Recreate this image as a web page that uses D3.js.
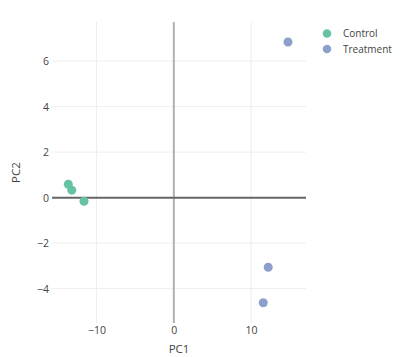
<!DOCTYPE html>
<html><head><meta charset="utf-8">
<script src="https://cdn.jsdelivr.net/npm/d3@7"></script>
<style>body{margin:0;background:#fff}svg{display:block;font-family:"Open Sans",sans-serif}</style>
</head><body><svg id="c" width="408" height="357"></svg>
<script>
const groups = ["Control", "Treatment"];
const colors = ["#66c2a5", "#8da0cb"];
const controlPC1 = [-13.65, -13.2, -11.62];
const controlPC2 = [0.59, 0.33, -0.16];
const treatmentPC1 = [14.77, 12.21, 11.57];
const treatmentPC2 = [6.84, -3.06, -4.62];
const xTicks = [-10, 0, 10];
const yTicks = [-4, -2, 0, 2, 4, 6];

const svg = d3.select("#c");
const L = 52, R = 306, T = 22, B = 323;
const x = d3.scaleLinear().domain([-15.76, 17.1]).range([L, R]);
const y = d3.scaleLinear().domain([-5.51, 7.72]).range([B, T]);
const fmt = d => d < 0 ? "\u2212" + Math.abs(d) : String(d);

const g = svg.append("g");
// grid
g.selectAll(".gx").data(xTicks.filter(d=>d!==0)).join("line")
  .attr("x1", d=>x(d)).attr("x2", d=>x(d)).attr("y1", T).attr("y2", B)
  .attr("stroke", "#eeeeee").attr("stroke-width", 1);
g.selectAll(".gy").data(yTicks.filter(d=>d!==0)).join("line")
  .attr("y1", d=>y(d)).attr("y2", d=>y(d)).attr("x1", L).attr("x2", R)
  .attr("stroke", "#eeeeee").attr("stroke-width", 1);
// zero lines
g.append("line").attr("x1", x(0)).attr("x2", x(0)).attr("y1", T).attr("y2", B)
  .attr("stroke", "#b0b0b0").attr("stroke-width", 2);
g.append("line").attr("y1", y(0)).attr("y2", y(0)).attr("x1", L).attr("x2", R)
  .attr("stroke", "#666666").attr("stroke-width", 2);

// axes labels via d3 axes
const xAxis = d3.axisBottom(x).tickValues(xTicks).tickFormat(fmt).tickSize(0).tickPadding(4);
const xa = svg.append("g").attr("transform", `translate(0,${B})`).call(xAxis);
const yAxis = d3.axisLeft(y).tickValues(yTicks).tickFormat(fmt).tickSize(0).tickPadding(3);
const ya = svg.append("g").attr("transform", `translate(${L},0)`).call(yAxis);
[xa, ya].forEach(a => {
  a.select(".domain").remove();
  a.selectAll("text").attr("font-family", "'Open Sans',sans-serif").attr("font-size", 10.5).attr("fill", "#444");
});

// points
const data = [
  {g: 0, xs: controlPC1, ys: controlPC2},
  {g: 1, xs: treatmentPC1, ys: treatmentPC2}
];
data.forEach(s => {
  svg.append("g").selectAll("circle").data(s.xs.map((v,i)=>[v, s.ys[i]])).join("circle")
    .attr("cx", d=>x(d[0])).attr("cy", d=>y(d[1])).attr("r", 4.5)
    .attr("fill", colors[s.g]);
});

// axis titles
svg.append("text").attr("x", (L+R)/2).attr("y", 353).attr("text-anchor", "middle")
  .attr("font-size", 11.5).attr("fill", "#444").text("PC1");
svg.append("text").attr("transform", `translate(20,${(T+B)/2}) rotate(-90)`).attr("text-anchor", "middle")
  .attr("font-size", 11.5).attr("fill", "#444").text("PC2");

// legend
const lg = svg.append("g");
groups.forEach((name, i) => {
  lg.append("circle").attr("cx", 327).attr("cy", 33.5 + i*15.5).attr("r", 4.3).attr("fill", colors[i]);
  lg.append("text").attr("x", 343).attr("y", 33.5 + i*15.5).attr("dy", "0.35em")
    .attr("font-size", 10).attr("fill", "#444").text(name);
});
</script></body></html>
